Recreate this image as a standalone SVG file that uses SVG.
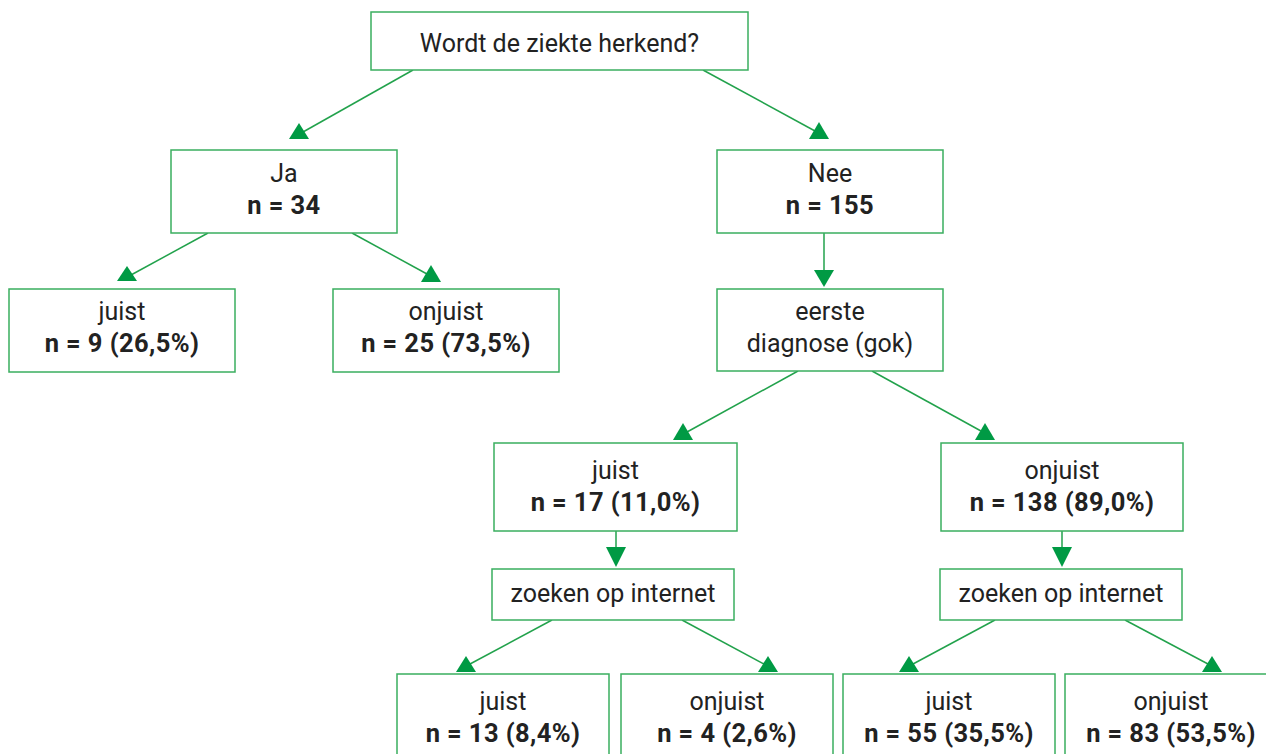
<svg xmlns="http://www.w3.org/2000/svg" width="1266" height="754" viewBox="0 0 1266 754">
<style>
.box{fill:#fff;stroke:#3aae5f;stroke-width:1.5}
.t{font-family:Roboto,"Liberation Sans",sans-serif;font-size:25px;fill:#222;text-anchor:middle}
.b{font-weight:bold;font-size:25.5px;letter-spacing:0.4px}
.c line{stroke:#22a24c;stroke-width:1.5}
.c polygon{fill:#009a44}
</style>
<rect width="1266" height="754" fill="#fff"/>
<g class="c" id="connectors">
<line x1="413" y1="70" x2="303" y2="132"/><polygon points="299,123 309,139 289,139"/>
<line x1="703" y1="70" x2="815" y2="131"/><polygon points="819,122 829,139 809,139"/>
<line x1="208" y1="233" x2="131" y2="275"/><polygon points="127,266 137,281 117,281"/>
<line x1="352" y1="233" x2="427" y2="274"/><polygon points="431,265 441,282 421,282"/>
<line x1="824" y1="233" x2="824" y2="272"/><polygon points="814,270 834,270 824,287"/>
<line x1="798" y1="371" x2="687" y2="432"/><polygon points="683,423 693,440 673,440"/>
<line x1="872" y1="371" x2="981" y2="431"/><polygon points="985,423 995,440 975,440"/>
<line x1="616" y1="531" x2="616" y2="549"/><polygon points="606,547 626,547 616,567"/>
<line x1="1062" y1="531" x2="1062" y2="549"/><polygon points="1052,547 1072,547 1062,567"/>
<line x1="552" y1="620" x2="470" y2="664"/><polygon points="466,656 476,672 456,672"/>
<line x1="682" y1="620" x2="764" y2="664"/><polygon points="768,656 778,672 758,672"/>
<line x1="995" y1="620" x2="913" y2="664"/><polygon points="909,656 919,672 899,672"/>
<line x1="1125" y1="620" x2="1208" y2="664"/><polygon points="1212,656 1222,672 1202,672"/>
</g>
<g id="n-root"><rect class="box" x="371" y="12" width="377" height="58"/><text class="t" x="559.5" y="52">Wordt de ziekte herkend?</text></g>
<g id="n-ja"><rect class="box" x="171" y="150" width="226" height="83"/><text class="t" x="284" y="182">Ja</text><text class="t b" x="284" y="214">n = 34</text></g>
<g id="n-nee"><rect class="box" x="717" y="150" width="226" height="83"/><text class="t" x="830" y="182">Nee</text><text class="t b" x="830" y="214">n = 155</text></g>
<g id="n-ja-juist"><rect class="box" x="9" y="289" width="226" height="83"/><text class="t" x="122" y="320">juist</text><text class="t b" x="122" y="352">n = 9 (26,5%)</text></g>
<g id="n-ja-onjuist"><rect class="box" x="333" y="289" width="226" height="83"/><text class="t" x="446" y="320">onjuist</text><text class="t b" x="446" y="352">n = 25 (73,5%)</text></g>
<g id="n-eerste"><rect class="box" x="717" y="289" width="226" height="82"/><text class="t" x="830" y="320">eerste</text><text class="t" x="830" y="352">diagnose (gok)</text></g>
<g id="n-juist17"><rect class="box" x="494" y="443" width="243" height="88"/><text class="t" x="615.5" y="479">juist</text><text class="t b" x="615.5" y="511">n = 17 (11,0%)</text></g>
<g id="n-onjuist138"><rect class="box" x="941" y="443" width="242" height="88"/><text class="t" x="1062" y="479">onjuist</text><text class="t b" x="1062" y="511">n = 138 (89,0%)</text></g>
<g id="n-zoeken1"><rect class="box" x="492" y="569" width="242" height="51"/><text class="t" x="613" y="602">zoeken op internet</text></g>
<g id="n-zoeken2"><rect class="box" x="940" y="569" width="242" height="51"/><text class="t" x="1061" y="602">zoeken op internet</text></g>
<g id="n-j13"><rect class="box" x="397" y="674" width="212" height="90"/><text class="t" x="503" y="710">juist</text><text class="t b" x="503" y="742">n = 13 (8,4%)</text></g>
<g id="n-o4"><rect class="box" x="621" y="674" width="212" height="90"/><text class="t" x="727" y="710">onjuist</text><text class="t b" x="727" y="742">n = 4 (2,6%)</text></g>
<g id="n-j55"><rect class="box" x="843" y="674" width="212" height="90"/><text class="t" x="949" y="710">juist</text><text class="t b" x="949" y="742">n = 55 (35,5%)</text></g>
<g id="n-o83"><rect class="box" x="1065" y="674" width="212" height="90"/><text class="t" x="1171" y="710">onjuist</text><text class="t b" x="1171" y="742">n = 83 (53,5%)</text></g>
</svg>
